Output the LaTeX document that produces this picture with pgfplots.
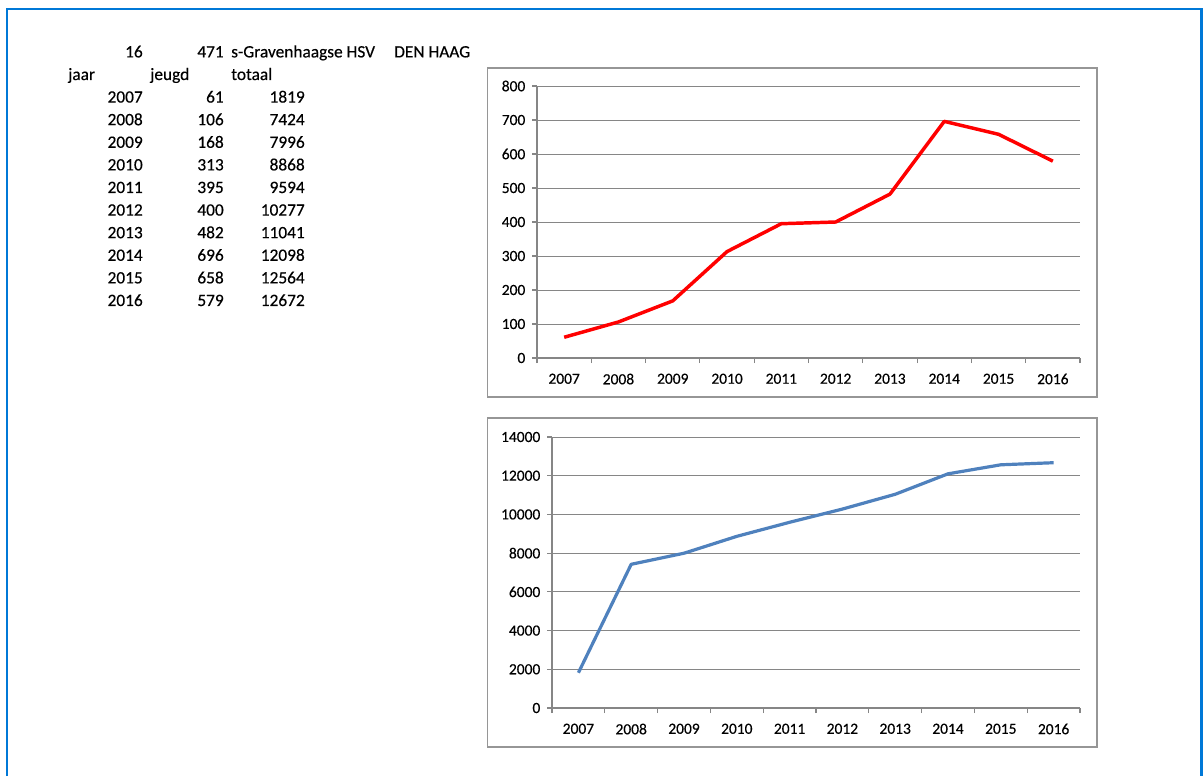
\documentclass[border=0pt]{standalone}
\usepackage{fontspec}
\setmainfont{Carlito}[FakeBold=0.35]
\usepackage{pgfplots}
\pgfplotsset{compat=1.18}
\definecolor{frameblue}{RGB}{0,120,215}
\definecolor{gridgray}{RGB}{134,134,134}
\definecolor{boxgray}{RGB}{150,150,150}
\definecolor{xlblue}{RGB}{79,129,189}
\pgfplotsset{excel/.style={
  scale only axis,
  axis lines=left,
  axis line style={-, draw=gridgray, line width=1.1pt},
  xmin=2006.5, xmax=2016.5,
  xtick={2007,2008,2009,2010,2011,2012,2013,2014,2015,2016},
  minor xtick={2006.5,2007.5,2008.5,2009.5,2010.5,2011.5,2012.5,2013.5,2014.5,2015.5,2016.5},
  major x tick style={draw=none},
  minor x tick style={draw=gridgray, line width=0.8pt},
  major y tick style={draw=gridgray, line width=0.8pt},
  tick align=outside,
  major tick length=3.75pt,
  minor tick length=3.75pt,
  ymajorgrids,
  major grid style={draw=gridgray, line width=0.75pt},
  scaled x ticks=false, scaled y ticks=false,
  /pgf/number format/1000 sep={},
  /pgf/number format/assume math mode=true,
  ticklabel style={font=\fontsize{11.6}{13}\selectfont, text=black},
  x tick label style={yshift=-4.5pt},
  y tick label style={xshift=-1.5pt},
  clip=false,
}}
\begin{document}
\begin{tikzpicture}
\useasboundingbox (0,0) rectangle (902.25pt,582pt);
\begin{scope}[x=0.75pt,y=-0.75pt,shift={(0,582pt)}]
  % page frame
  \draw[frameblue, line width=1.6pt] (7,776) -- (7,9) -- (1201.5,9) -- (1201.5,776);
  % chart boxes
  \draw[boxgray, line width=0.8pt] (487.5,68) rectangle (1097,397);
  \draw[boxgray, line width=0.8pt] (487.5,418) rectangle (1097,747);
  % table text
  \begin{scope}[every node/.style={inner sep=0pt, font=\fontsize{13}{15}\selectfont}]
    \node[anchor=base east] at (143,57.4) {16};
    \node[anchor=base east] at (224,57.4) {471};
    \node[anchor=base west] at (231,57.4) {s-Gravenhaagse HSV};
    \node[anchor=base west] at (394,57.4) {DEN HAAG};
    \node[anchor=base west] at (68,80) {jaar};
    \node[anchor=base west] at (150,80) {jeugd};
    \node[anchor=base west] at (231,80) {totaal};
    \foreach \y/\a/\b [count=\i from 0] in {2007/61/1819,2008/106/7424,2009/168/7996,2010/313/8868,2011/395/9594,2012/400/10277,2013/482/11041,2014/696/12098,2015/658/12564,2016/579/12672} {
      \pgfmathsetmacro{\yy}{102.6+22.6*\i}
      \node[anchor=base east] at (143,\yy) {\y};
      \node[anchor=base east] at (224,\yy) {\a};
      \node[anchor=base east] at (305,\yy) {\b};
    }
  \end{scope}
\end{scope}

\begin{axis}[excel,
  at={(402.75pt,313.5pt)}, anchor=south west,
  width=407.25pt, height=204pt,
  ymin=0, ymax=800, ytick={0,100,...,800},
]
\addplot[red, line width=2.6pt, line join=round] coordinates {
(2007,61) (2008,106) (2009,168) (2010,313) (2011,395) (2012,400) (2013,482) (2014,696) (2015,658) (2016,579)};
\end{axis}

\begin{axis}[excel,
  at={(414pt,51pt)}, anchor=south west,
  width=396pt, height=203.25pt,
  ymin=0, ymax=14000, ytick={0,2000,...,14000},
]
\addplot[xlblue, line width=2.4pt, line join=round] coordinates {
(2007,1819) (2008,7424) (2009,7996) (2010,8868) (2011,9594) (2012,10277) (2013,11041) (2014,12098) (2015,12564) (2016,12672)};
\end{axis}
\end{tikzpicture}
\end{document}
